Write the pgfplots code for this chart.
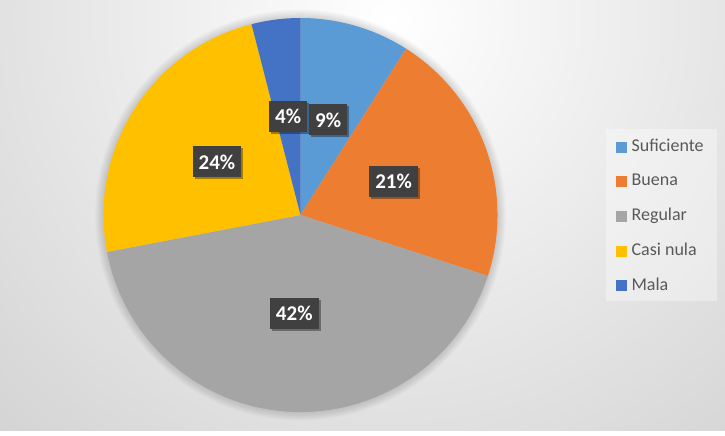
\documentclass[border=0pt]{standalone}
\usepackage{pgfplots}
\pgfplotsset{compat=1.18}
\usepackage{fontspec}
\setmainfont{Carlito}
\usetikzlibrary{shadows}
\definecolor{cSuf}{HTML}{5B9BD5}
\definecolor{cBue}{HTML}{ED7D31}
\definecolor{cReg}{HTML}{A5A5A5}
\definecolor{cCas}{HTML}{FFC000}
\definecolor{cMal}{HTML}{4472C4}
\definecolor{lblfill}{HTML}{404040}
\definecolor{legtext}{HTML}{595959}
% data (percent)
\def\vSuf{9}\def\vBue{21}\def\vReg{42}\def\vCas{24}\def\vMal{4}
\pgfmathsetmacro\aO{90}
\pgfmathsetmacro\aI{\aO-3.6*\vSuf}
\pgfmathsetmacro\aII{\aI-3.6*\vBue}
\pgfmathsetmacro\aIII{\aII-3.6*\vReg}
\pgfmathsetmacro\aIV{\aIII-3.6*\vCas}
\pgfmathsetmacro\aV{\aIV-3.6*\vMal}
\pgfmathsetmacro\mI{(\aO+\aI)/2}
\pgfmathsetmacro\mII{(\aI+\aII)/2}
\pgfmathsetmacro\mIII{(\aII+\aIII)/2}
\pgfmathsetmacro\mIV{(\aIII+\aIV)/2}
\pgfmathsetmacro\mV{(\aIV+\aV)/2}
\def\cx{300.5}\def\cy{215}\def\R{197pt}
\begin{document}
\begin{tikzpicture}[x=1pt,y=1pt,
  lbl/.style={fill=lblfill, text=white, font=\fontsize{21}{23}\selectfont\bfseries,
    inner xsep=6pt, inner ysep=0pt, minimum height=31pt,
    drop shadow={shadow xshift=2pt, shadow yshift=-2pt, opacity=0.35, fill=black}}]
\begin{axis}[
  width=725pt, height=430pt, scale only axis,
  xmin=0, xmax=725, ymin=0, ymax=430,
  hide axis, clip=false,
  legend style={at={(axis cs:616,292)}, anchor=north west, draw=none, fill=none,
    inner sep=0pt, row sep=17.7pt,
    font=\fontsize{18}{20}\selectfont, text=legtext,
    nodes={inner sep=0pt, text height=13pt, text depth=4pt},
    /tikz/every odd column/.append style={column sep=5pt}},
  legend cell align=left,
]
% background
\begin{scope}
\clip (axis cs:0,0) rectangle (axis cs:725,430);
\shade[inner color=white, outer color=black!19] (axis cs:390,410) circle[radius=640pt];
\end{scope}
% legend box
\fill[white, opacity=0.35] (axis cs:606,129) rectangle (axis cs:717,301);
% soft glow around pie
\pgfplotsinvokeforeach{1,...,7}{
  \fill[black, opacity=0.018] (axis cs:\cx,\cy) circle[radius={197pt+#1*1.2pt}];
}
% slices
\fill[cSuf] (axis cs:\cx,\cy) -- ++(canvas polar cs:angle=\aO,radius=\R) arc[start angle=\aO, end angle=\aI, radius=\R] -- cycle;
\fill[cBue] (axis cs:\cx,\cy) -- ++(canvas polar cs:angle=\aI,radius=\R) arc[start angle=\aI, end angle=\aII, radius=\R] -- cycle;
\fill[cReg] (axis cs:\cx,\cy) -- ++(canvas polar cs:angle=\aII,radius=\R) arc[start angle=\aII, end angle=\aIII, radius=\R] -- cycle;
\fill[cCas] (axis cs:\cx,\cy) -- ++(canvas polar cs:angle=\aIII,radius=\R) arc[start angle=\aIII, end angle=\aIV, radius=\R] -- cycle;
\fill[cMal] (axis cs:\cx,\cy) -- ++(canvas polar cs:angle=\aIV,radius=\R) arc[start angle=\aIV, end angle=\aV, radius=\R] -- cycle;
% data labels
\path (axis cs:\cx,\cy) ++(canvas polar cs:angle=\mI,radius=99pt) node[lbl] {\vSuf\%};
\path (axis cs:\cx,\cy) ++(canvas polar cs:angle=\mII,radius=99pt) node[lbl] {\vBue\%};
\path (axis cs:\cx,\cy) ++(canvas polar cs:angle=\mIII,radius=99pt) node[lbl] {\vReg\%};
\path (axis cs:\cx,\cy) ++(canvas polar cs:angle=\mIV,radius=99pt) node[lbl] {\vCas\%};
\path (axis cs:\cx,\cy) ++(canvas polar cs:angle=\mV,radius=99pt) node[lbl] {\vMal\%};
% legend entries
\addlegendimage{legend image code/.code={\fill[cSuf] (0pt,-5pt) rectangle (10pt,5pt);}}
\addlegendentry{Suficiente}
\addlegendimage{legend image code/.code={\fill[cBue] (0pt,-5pt) rectangle (10pt,5pt);}}
\addlegendentry{Buena}
\addlegendimage{legend image code/.code={\fill[cReg] (0pt,-5pt) rectangle (10pt,5pt);}}
\addlegendentry{Regular}
\addlegendimage{legend image code/.code={\fill[cCas] (0pt,-5pt) rectangle (10pt,5pt);}}
\addlegendentry{Casi nula}
\addlegendimage{legend image code/.code={\fill[cMal] (0pt,-5pt) rectangle (10pt,5pt);}}
\addlegendentry{Mala}
\end{axis}
\end{tikzpicture}
\end{document}
